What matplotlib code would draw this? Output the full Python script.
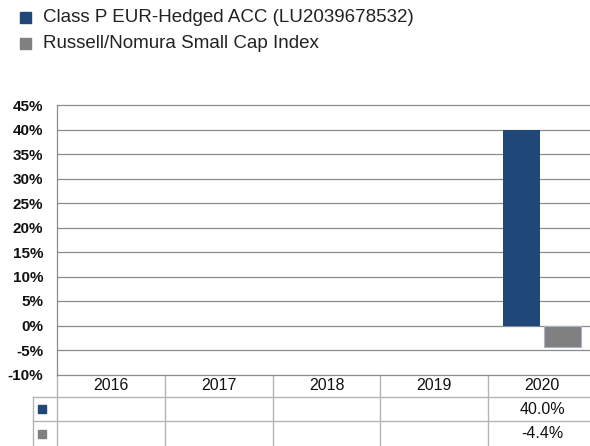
import matplotlib
matplotlib.use("Agg")
import matplotlib.pyplot as plt
from matplotlib.transforms import blended_transform_factory
from matplotlib.lines import Line2D
from matplotlib.patches import Rectangle

plt.rcParams['font.family'] = ['Liberation Sans', 'DejaVu Sans']

years = ["2016", "2017", "2018", "2019", "2020"]
fund_name = "Class P EUR-Hedged ACC (LU2039678532)"
index_name = "Russell/Nomura Small Cap Index"
fund_values = [None, None, None, None, 40.0]
index_values = [None, None, None, None, -4.4]
yticks = [-10, -5, 0, 5, 10, 15, 20, 25, 30, 35, 40, 45]

fund_color = "#1f4778"
index_color = "#808080"
grid_color = "#8c8c8c"
table_color = "#b4b4b4"

W, H = 590, 446
fig = plt.figure(figsize=(W / 100, H / 100), dpi=100)

# overlay for pixel-based layout
ov = fig.add_axes([0, 0, 1, 1])
ov.set_xlim(0, W)
ov.set_ylim(H, 0)
ov.axis('off')

plot_left, plot_right, plot_top, plot_bottom = 57, 596, 105, 374.5
ax = fig.add_axes([plot_left / W, 1 - plot_bottom / H,
                   (plot_right - plot_left) / W, (plot_bottom - plot_top) / H])
ax.set_zorder(2)
ax.patch.set_alpha(0)

n = len(years)
ax.set_xlim(-0.5, n - 0.5)
ax.set_ylim(-10, 45)
ax.set_yticks(yticks)
ax.set_yticklabels([f"{v}%" for v in yticks], fontsize=11, fontweight='bold',
                   color='#111111')
ax.tick_params(axis='y', length=0, pad=10)
ax.set_xticks([])
for y in yticks:
    ax.axhline(y, color=grid_color, lw=0.9, zorder=1, clip_on=False)
for s in ['top', 'right', 'bottom']:
    ax.spines[s].set_visible(False)
ax.spines['left'].set_color(grid_color)
ax.spines['left'].set_linewidth(0.9)

bw = 0.35
off = 0.19
for i in range(n):
    if fund_values[i] is not None:
        ax.bar(i - off, fund_values[i], width=bw, color=fund_color, zorder=3)
    if index_values[i] is not None:
        ax.bar(i + off, index_values[i], width=bw, color=index_color,
               edgecolor="#a8b4c8", linewidth=0.8, zorder=3)

# legend
ov.add_patch(Rectangle((20, 12), 11, 11, color=fund_color))
ov.text(43, 18, fund_name, fontsize=13.5, va='center', ha='left', color='#222222')
ov.add_patch(Rectangle((20, 38), 11, 11, color=index_color))
ov.text(43, 44, index_name, fontsize=13.5, va='center', ha='left', color='#222222')

# data table
bt = blended_transform_factory(ax.transData, ov.transData)
row_top = 374.5
row_lines = [397, 421]
row_bottom = 446
leg_left = 33
ov.add_line(Line2D([leg_left, W], [row_lines[0]] * 2, color=table_color, lw=1))
ov.add_line(Line2D([leg_left, W], [row_lines[1]] * 2, color=table_color, lw=1))
ov.add_line(Line2D([leg_left, leg_left], [row_lines[0], row_bottom], color=table_color, lw=1))
ov.add_line(Line2D([plot_left, plot_left], [row_top, row_bottom], color=table_color, lw=1))
for i in range(1, n):
    ov.add_line(Line2D([i - 0.5, i - 0.5], [row_top, row_bottom], color=table_color,
                       lw=1, transform=bt))
for i, yr in enumerate(years):
    ov.text(i, 386, yr, transform=bt, ha='center', va='center', fontsize=11.5, color='#111111')
    if fund_values[i] is not None:
        ov.text(i, 409.5, f"{fund_values[i]:.1f}%", transform=bt, ha='center',
                va='center', fontsize=11.5, color='#111111')
    if index_values[i] is not None:
        ov.text(i, 434, f"{index_values[i]:.1f}%", transform=bt, ha='center',
                va='center', fontsize=11.5, color='#111111')
ov.add_patch(Rectangle((38, 405), 8, 8, color=fund_color))
ov.add_patch(Rectangle((38, 430), 8, 8, color=index_color))

fig.savefig("out.png", dpi=100)
